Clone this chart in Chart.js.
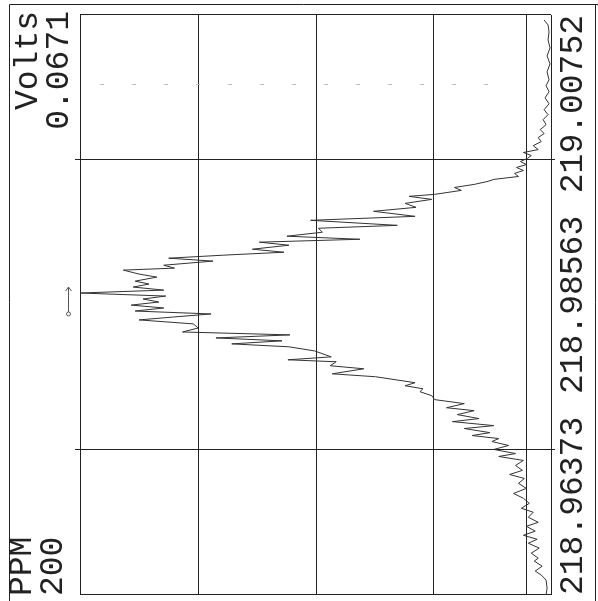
<!DOCTYPE html>
<html>
<head>
<meta charset="utf-8">
<script src="https://cdn.jsdelivr.net/npm/chart.js@4/dist/chart.umd.min.js"></script>
<style>
  html, body { margin: 0; padding: 0; background: #fff; overflow: hidden; }
  #wrap {
    position: absolute; left: 0; top: 0;
    width: 601px; height: 598px;
    transform-origin: 0 0;
    transform: translate(0, 601px) rotate(-90deg);
    background: #fff;
  }
</style>
</head>
<body>
<div id="wrap"><canvas id="scan" width="601" height="598"></canvas></div>
<script>
// scan of mass (x) against detector volts (y); the sheet is printed turned on its side
const massValues = [
  218.96373, 218.96426, 218.96486, 218.96524, 218.96554, 218.96591, 218.96629, 218.96651, 218.96689, 218.96727,
  218.96764, 218.96794, 218.96824, 218.96855, 218.96892, 218.96922, 218.96960, 218.96998, 218.97028, 218.97065,
  218.97103, 218.97140, 218.97178, 218.97216, 218.97253, 218.97283, 218.97314, 218.97351, 218.97389, 218.97419,
  218.97441, 218.97472, 218.97502, 218.97532, 218.97554, 218.97577, 218.97599, 218.97630, 218.97652, 218.97682,
  218.97705, 218.97735, 218.97765, 218.97787, 218.97818, 218.97848, 218.97878, 218.97908, 218.97930, 218.97953,
  218.97976, 218.98021, 218.98043, 218.98081, 218.98104, 218.98134, 218.98149, 218.98171, 218.98216, 218.98247,
  218.98269, 218.98292, 218.98314, 218.98337, 218.98359, 218.98389, 218.98420, 218.98450, 218.98472, 218.98495,
  218.98517, 218.98540, 218.98562, 218.98585, 218.98608, 218.98630, 218.98653, 218.98675, 218.98698, 218.98721,
  218.98743, 218.98773, 218.98796, 218.98826, 218.98841, 218.98863, 218.98894, 218.98916, 218.98939, 218.98961,
  218.98984, 218.99014, 218.99037, 218.99059, 218.99082, 218.99112, 218.99142, 218.99164, 218.99202, 218.99232,
  218.99270, 218.99300, 218.99330, 218.99360, 218.99383, 218.99398, 218.99428, 218.99450, 218.99473, 218.99496,
  218.99511, 218.99533, 218.99556, 218.99578, 218.99601, 218.99623, 218.99646, 218.99669, 218.99691, 218.99714,
  218.99736, 218.99766, 218.99796, 218.99827, 218.99857, 218.99887, 218.99924, 218.99962, 219.00000, 219.00037,
  219.00082, 219.00127, 219.00173, 219.00218, 219.00263, 219.00323, 219.00383, 219.00443, 219.00504, 219.00564,
  219.00624, 219.00677, 219.00714
];
const voltValues = [
  0.00070, 0.00056, 0.00070, 0.00140, 0.00225, 0.00126, 0.00239, 0.00182, 0.00281, 0.00168,
  0.00323, 0.00197, 0.00393, 0.00225, 0.00351, 0.00182, 0.00323, 0.00253, 0.00421, 0.00309,
  0.00393, 0.00533, 0.00351, 0.00463, 0.00379, 0.00590, 0.00407, 0.00505, 0.00393, 0.00744,
  0.00505, 0.00814, 0.00604, 0.00842, 0.00744, 0.01123, 0.00870, 0.01235, 0.00814, 0.01404,
  0.01025, 0.01334, 0.01095, 0.01488, 0.01235, 0.01656, 0.01699, 0.01867, 0.01825, 0.02078,
  0.01937, 0.02499, 0.03116, 0.02667, 0.03145, 0.03060, 0.03748, 0.03130, 0.03369, 0.03734,
  0.04548, 0.03832, 0.04773, 0.03720, 0.05250, 0.05026, 0.05096, 0.05868, 0.05377, 0.04843,
  0.05924, 0.05517, 0.05980, 0.05587, 0.05812, 0.05489, 0.06710, 0.05517, 0.05952, 0.05728,
  0.05924, 0.05615, 0.05868, 0.06092, 0.05363, 0.05517, 0.04815, 0.05447, 0.04661, 0.03804,
  0.04254, 0.03734, 0.04155, 0.02723, 0.03762, 0.03257, 0.03313, 0.02190, 0.03425, 0.01937,
  0.02527, 0.01923, 0.02078, 0.01699, 0.02021, 0.01656, 0.01277, 0.01376, 0.01095, 0.00898,
  0.00814, 0.00463, 0.00519, 0.00393, 0.00491, 0.00351, 0.00435, 0.00337, 0.00281, 0.00393,
  0.00182, 0.00253, 0.00140, 0.00182, 0.00098, 0.00154, 0.00070, 0.00112, 0.00042, 0.00098,
  0.00028, 0.00084, 0.00028, 0.00070, 0.00028, 0.00056, 0.00014, 0.00056, 0.00014, 0.00042,
  0.00028, 0.00042, 0.00098
];
const massTicks = [218.96373, 218.98563, 219.00752];
const massGrid = [218.97468, 218.99657];
const voltMax = 0.0671;
const voltGrid = [0, 0.0035, 0.016775, 0.03355, 0.050325, 0.0671];
const ppmText = ['PPM', '200'];
const voltText = ['Volts', voltMax.toFixed(4)];
const dashMass = 219.00225;        // faint dotted mark across the sheet
const peakMarker = [218.98510, 218.98698];

const FONT = '"Liberation Mono", "DejaVu Sans Mono", monospace';
const INK = '#222';

// frame lines, grid and the side texts
const sheetPlugin = {
  id: 'sheet',
  beforeDatasetsDraw(chart) {
    const ctx = chart.ctx;
    const xs = chart.scales.x, ys = chart.scales.y;
    const top = ys.getPixelForValue(voltMax), bot = ys.getPixelForValue(0);
    const left = xs.getPixelForValue(massTicks[0]), right = xs.getPixelForValue(massTicks[2]);
    ctx.save();
    ctx.strokeStyle = INK;
    ctx.lineWidth = 1;
    ctx.beginPath();
    // outer sheet frame
    ctx.moveTo(0, 9.5); ctx.lineTo(596.5, 9.5);
    ctx.moveTo(596.5, 9.5); ctx.lineTo(596.5, 598);
    ctx.moveTo(0, 595.5); ctx.lineTo(596.5, 595.5);
    // volts grid
    voltGrid.forEach(v => {
      const y = Math.round(ys.getPixelForValue(v)) + 0.5;
      ctx.moveTo(left, y); ctx.lineTo(right, y);
    });
    // mass ends and grid
    [massTicks[0], massTicks[2]].forEach(m => {
      const x = Math.round(xs.getPixelForValue(m)) + 0.5;
      ctx.moveTo(x, top); ctx.lineTo(x, bot);
    });
    massGrid.forEach(m => {
      const x = Math.round(xs.getPixelForValue(m)) + 0.5;
      ctx.moveTo(x, top - 5); ctx.lineTo(x, bot + 4);
    });
    ctx.stroke();

    // dotted scan mark
    ctx.strokeStyle = '#bbb';
    ctx.setLineDash([4, 28]);
    ctx.beginPath();
    const dx = Math.round(xs.getPixelForValue(dashMass)) + 0.5;
    ctx.moveTo(dx, top + 20); ctx.lineTo(dx, bot - 35);
    ctx.stroke();
    ctx.setLineDash([]);

    // peak marker
    ctx.strokeStyle = '#555';
    const my = top - 11.5;
    const m0 = xs.getPixelForValue(peakMarker[0]), m1 = xs.getPixelForValue(peakMarker[1]);
    ctx.beginPath();
    ctx.moveTo(m0, my); ctx.lineTo(m1, my);
    ctx.moveTo(m1 - 4, my - 3); ctx.lineTo(m1, my); ctx.lineTo(m1 - 4, my + 3);
    ctx.stroke();
    ctx.beginPath();
    ctx.arc(m0 - 2, my, 2, 0, Math.PI * 2);
    ctx.stroke();

    // side texts
    ctx.fillStyle = INK;
    ctx.font = '33px ' + FONT;
    ctx.textBaseline = 'middle';
    ctx.textAlign = 'left';
    ctx.fillText(ppmText[0], 5, 22);
    ctx.fillText(ppmText[1], 5, 53);
    ctx.textAlign = 'right';
    ctx.fillText(voltText[0], 590, 28);
    ctx.fillText(voltText[1], 590, 59);
    ctx.restore();
  }
};

const chart = new Chart(document.getElementById('scan'), {
  type: 'scatter',
  data: {
    datasets: [{
      data: massValues.map((m, i) => ({ x: m, y: voltValues[i] })),
      showLine: true,
      borderColor: '#333',
      borderWidth: 1,
      pointRadius: 0,
      tension: 0
    }]
  },
  options: {
    responsive: false,
    animation: false,
    devicePixelRatio: 1,
    layout: { padding: { left: 4, right: 15, top: 80, bottom: 2 } },
    plugins: { legend: { display: false }, tooltip: { enabled: false } },
    scales: {
      x: {
        type: 'linear',
        min: massTicks[0],
        max: massTicks[2],
        grid: { display: false, drawTicks: false },
        border: { display: false },
        afterBuildTicks: scale => { scale.ticks = massTicks.map(v => ({ value: v })); },
        ticks: {
          align: 'inner',
          padding: 6,
          maxRotation: 0,
          autoSkip: false,
          color: INK,
          font: { family: FONT, size: 33, lineHeight: 1 },
          callback: v => v.toFixed(5)
        }
      },
      y: {
        type: 'linear',
        min: 0,
        max: voltMax,
        display: false
      }
    }
  },
  plugins: [sheetPlugin]
});
</script>
</body>
</html>
